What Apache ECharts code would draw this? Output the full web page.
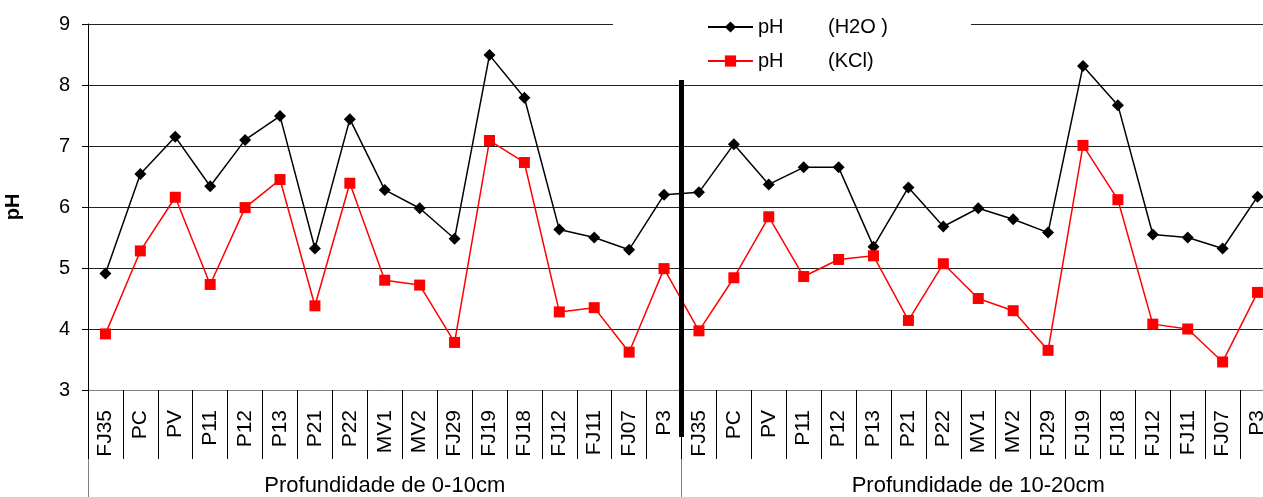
<!DOCTYPE html>
<html>
<head>
<meta charset="utf-8">
<script src="https://cdn.jsdelivr.net/npm/echarts@6/dist/echarts.min.js"></script>
<style>
html, body { margin: 0; padding: 0; background: #fff; }
#chart { width: 1263px; height: 497px; }
</style>
</head>
<body>
<div id="chart"></div>
<script>
// amostras (repetidas nas duas profundidades)
const sites = ['FJ35', 'PC', 'PV', 'P11', 'P12', 'P13', 'P21', 'P22', 'MV1', 'MV2', 'FJ29', 'FJ19', 'FJ18', 'FJ12', 'FJ11', 'FJ07', 'P3'];
const categories = sites.concat(sites);
const groups = ['Profundidade de 0-10cm', 'Profundidade de 10-20cm'];
const yTicks = [3, 9, 1];

// pH em agua: 0-10cm e depois 10-20cm
const phH2O = [
  4.91, 6.54, 7.15, 6.34, 7.10, 7.49, 5.32, 7.44, 6.28, 5.98, 5.48, 8.49, 7.79, 5.63, 5.50, 5.30, 6.20,
  6.24, 7.03, 6.37, 6.65, 6.65, 5.35, 6.32, 5.68, 5.98, 5.80, 5.58, 8.31, 7.67, 5.55, 5.50, 5.32, 6.17
];
// pH em KCl
const phKCl = [
  3.92, 5.28, 6.16, 4.73, 5.99, 6.45, 4.38, 6.39, 4.80, 4.72, 3.78, 7.09, 6.73, 4.28, 4.35, 3.62, 4.99,
  3.97, 4.84, 5.84, 4.86, 5.14, 5.20, 4.14, 5.07, 4.50, 4.30, 3.65, 7.01, 6.12, 4.08, 4.00, 3.46, 4.60
];

const font = "'Liberation Sans', Arial, sans-serif";
const chart = echarts.init(document.getElementById('chart'));

const option = {
  animation: false,
  backgroundColor: '#fff',
  textStyle: { fontFamily: font, color: '#000' },
  grid: { left: 88, top: 24, width: 1187, height: 366, outerBoundsMode: 'none', containLabel: false },
  legend: {
    orient: 'vertical',
    left: 702,
    top: 12,
    z: 10,
    itemWidth: 45,
    itemHeight: 14,
    itemGap: 14,
    textStyle: {
      fontFamily: font,
      fontSize: 20,
      color: '#000',
      rich: {
        a: { width: 70, fontSize: 20, fontFamily: font, color: '#000' },
        b: { fontSize: 20, fontFamily: font, color: '#000' }
      }
    },
    formatter: function (name) {
      const p = name.split('|');
      return '{a|' + p[0] + '}{b|' + p[1] + '}';
    },
    data: ['pH|(H2O )', 'pH|(KCl)']
  },
  xAxis: [
    {
      type: 'category',
      data: categories,
      boundaryGap: true,
      axisLine: { lineStyle: { color: '#808080', width: 1 } },
      axisTick: { show: true, interval: 0, length: 69, lineStyle: { color: '#000' } },
      axisLabel: { interval: 0, rotate: 90, fontSize: 21, margin: 20, color: '#000', fontFamily: font },
      splitLine: { show: false }
    },
    {
      type: 'category',
      data: groups,
      position: 'bottom',
      offset: 69,
      boundaryGap: true,
      axisLine: { show: false },
      axisTick: { show: true, interval: 0, length: 38, lineStyle: { color: '#808080' } },
      axisLabel: { interval: 0, fontSize: 22, margin: 16, color: '#000', fontFamily: font },
      splitLine: { show: false }
    }
  ],
  yAxis: {
    type: 'value',
    min: yTicks[0],
    max: yTicks[1],
    interval: yTicks[2],
    name: 'pH',
    nameLocation: 'middle',
    nameGap: 65,
    nameTextStyle: { fontSize: 20, fontWeight: 'bold', color: '#000', fontFamily: font },
    axisLine: { show: true, lineStyle: { color: '#000' } },
    axisTick: { show: true, length: 6, lineStyle: { color: '#000' } },
    axisLabel: { fontSize: 20, margin: 18, color: '#000', fontFamily: font },
    splitLine: { show: true, lineStyle: { color: '#222', width: 1 } }
  },
  graphic: [
    { id: 'legendBg', type: 'rect', z: 5, shape: { x: 613, y: 4, width: 358, height: 74 }, style: { fill: '#fff' } }
  ],
  series: [
    {
      name: 'pH|(H2O )',
      type: 'line',
      xAxisIndex: 0,
      data: phH2O,
      symbol: 'diamond',
      symbolSize: 12,
      lineStyle: { color: '#000', width: 1.5 },
      itemStyle: { color: '#000' }
    },
    {
      name: 'pH|(KCl)',
      type: 'line',
      xAxisIndex: 0,
      data: phKCl,
      symbol: 'rect',
      symbolSize: 11,
      lineStyle: { color: '#ff0000', width: 1.5 },
      itemStyle: { color: '#ff0000' }
    }
  ]
};
chart.setOption(option);

// linha grossa separando as profundidades
const xSep = (chart.convertToPixel({ xAxisIndex: 0 }, 16) + chart.convertToPixel({ xAxisIndex: 0 }, 17)) / 2;
chart.setOption({
  graphic: [
    { id: 'legendBg', type: 'rect', z: 5, shape: { x: 613, y: 4, width: 358, height: 74 }, style: { fill: '#fff' } },
    { id: 'sep', type: 'line', z: 20, shape: { x1: xSep, y1: 80, x2: xSep, y2: 437 }, style: { stroke: '#000', lineWidth: 5 } }
  ]
});
window.addEventListener('resize', function () { chart.resize(); });
</script>
</body>
</html>
